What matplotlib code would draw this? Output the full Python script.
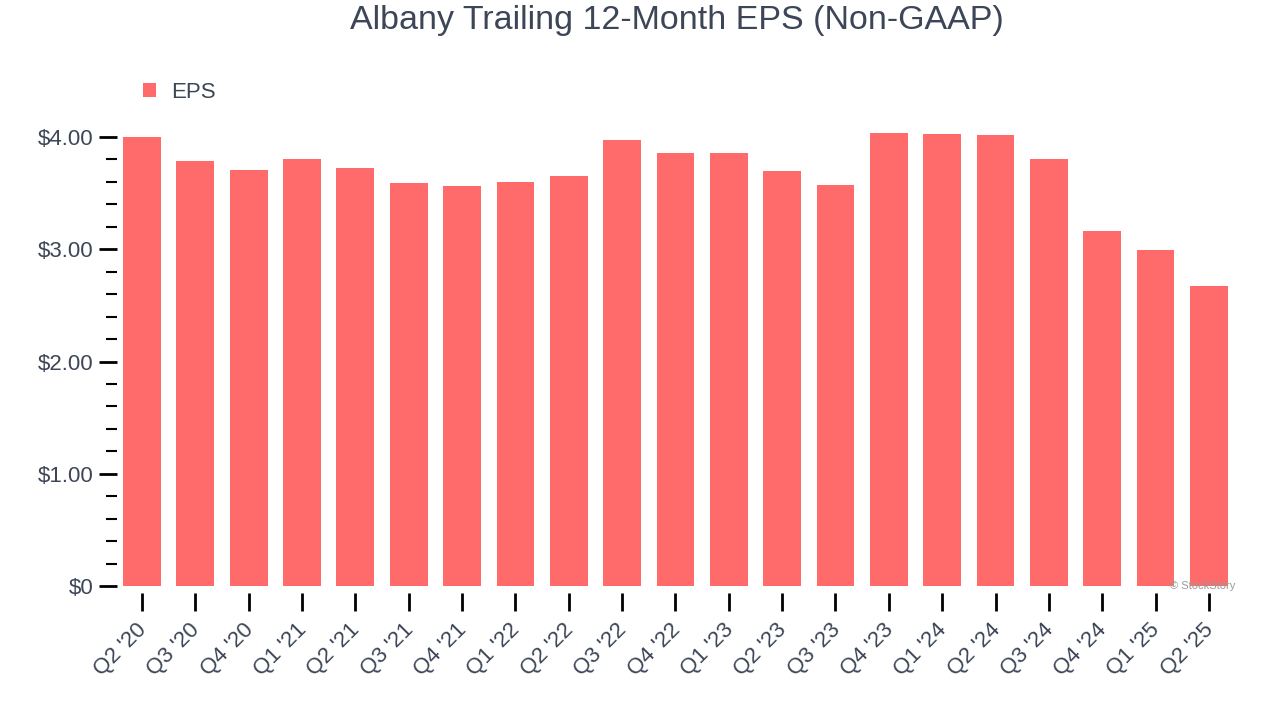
import matplotlib.pyplot as plt
import matplotlib.transforms as mtransforms
from matplotlib.ticker import FuncFormatter, MultipleLocator

quarters = ["Q2 '20", "Q3 '20", "Q4 '20", "Q1 '21", "Q2 '21", "Q3 '21", "Q4 '21",
            "Q1 '22", "Q2 '22", "Q3 '22", "Q4 '22", "Q1 '23", "Q2 '23", "Q3 '23",
            "Q4 '23", "Q1 '24", "Q2 '24", "Q3 '24", "Q4 '24", "Q1 '25", "Q2 '25"]
eps = [4.00, 3.79, 3.71, 3.80, 3.72, 3.59, 3.56,
       3.60, 3.65, 3.97, 3.86, 3.86, 3.70, 3.57,
       4.04, 4.03, 4.02, 3.80, 3.16, 2.99, 2.67]

text_color = '#3d4657'
bar_color = '#ff6b6b'

plt.rcParams['font.family'] = ['Liberation Sans', 'DejaVu Sans']

fig = plt.figure(figsize=(12.8, 7.2), dpi=100)
# axes placed in pixel terms: x 117..1235, y(0)=586, 1.00 = 112.25 px
ymax = 4.15
ax = fig.add_axes([117 / 1280, (720 - 586) / 720, (1235 - 117) / 1280, ymax * 112.25 / 720])

# spines off; bottom one pushed out so the x ticks sit a little below the bars
for s in ax.spines.values():
    s.set_visible(False)
ax.spines['bottom'].set_position(('outward', 5))

x = range(len(quarters))
ax.bar(x, eps, width=0.71, color=bar_color, label='EPS', zorder=2)

ax.set_xlim(-0.47, len(quarters) - 1 + 0.49)
ax.set_ylim(0, ymax)

ax.set_xticks(list(x))
ax.set_xticklabels(quarters, rotation=45, ha='right', rotation_mode='anchor',
                   fontsize=16, color=text_color)
ax.tick_params(axis='x', which='major', length=13, width=2, pad=6, color='black')
# nudge rotated labels a bit left, like the original
shift = mtransforms.ScaledTranslation(-6 / 100, 0, fig.dpi_scale_trans)
for lbl in ax.get_xticklabels():
    lbl.set_transform(lbl.get_transform() + shift)

ax.yaxis.set_major_locator(MultipleLocator(1.0))
ax.yaxis.set_minor_locator(MultipleLocator(0.2))
ax.yaxis.set_major_formatter(FuncFormatter(lambda v, p: '$0' if v == 0 else f'${v:.2f}'))
ax.tick_params(axis='y', which='major', length=13, width=2, pad=4,
               labelsize=16, labelcolor=text_color)
ax.tick_params(axis='y', which='minor', length=8, width=1.5)

fig.suptitle('Albany Trailing 12-Month EPS (Non-GAAP)', x=0.529, y=0.993,
             fontsize=24.5, color=text_color, va='top')

ax.legend(loc='center left', bbox_to_anchor=(0.005, 1.06), frameon=False,
          fontsize=16, handlelength=0.6, handleheight=0.6, handletextpad=0.7,
          labelcolor=text_color)

fig.text(1235 / 1280, (720 - 586) / 720, '© StockStory', fontsize=8,
         color='#999999', ha='right', va='center')

fig.savefig('out.png', dpi=100)
